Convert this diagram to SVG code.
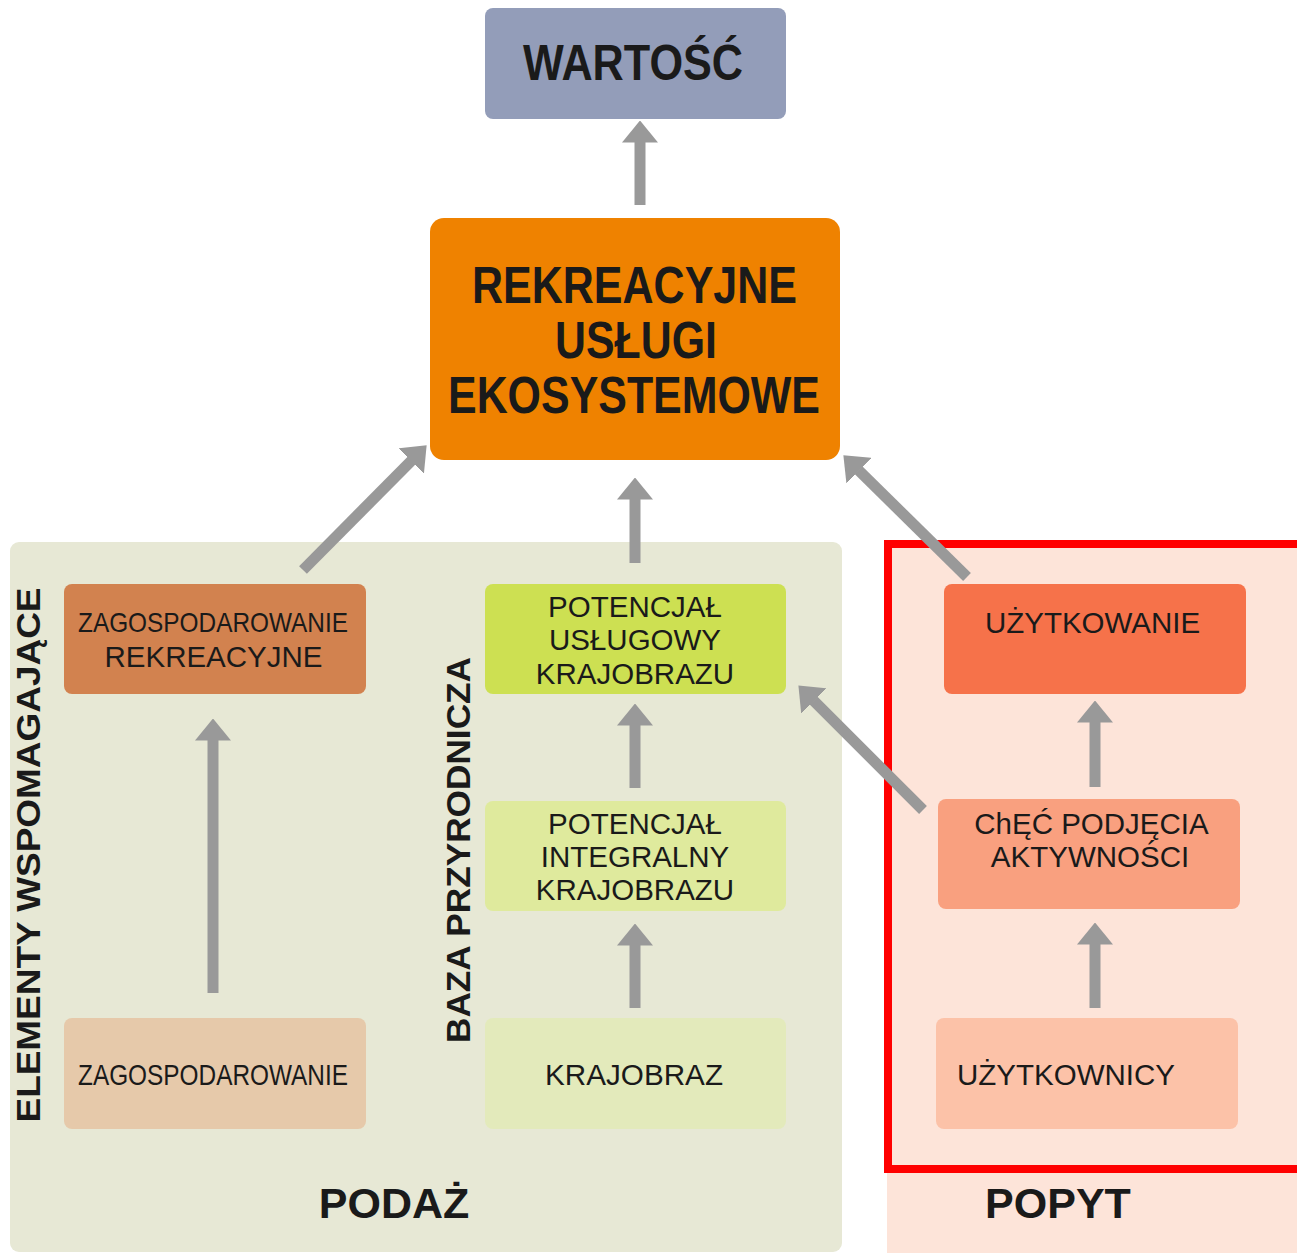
<svg xmlns="http://www.w3.org/2000/svg" width="1297" height="1253" viewBox="0 0 1297 1253">
<style>
.t{font-family:"Liberation Sans",Arial,sans-serif;fill:#1a1a1a;text-anchor:middle}
.b{font-weight:bold}
.n{font-size:29.5px}
.arr{stroke:#999;stroke-width:11;fill:none;marker-end:url(#ah)}
</style>
<defs>
<marker id="ah" markerUnits="userSpaceOnUse" viewBox="0 0 22 36" markerWidth="22" markerHeight="36" refX="0.5" refY="18" orient="auto">
<path d="M0,0 L22,18 L0,36 Z" fill="#999"/>
</marker>
</defs>
<rect width="1297" height="1253" fill="#fff"/>
<g id="podaz-panel">
<rect x="10" y="542" width="832" height="710" rx="9" fill="#e7e8d5"/>
<text class="t b" x="394" y="1218" font-size="43">PODAŻ</text>
<text class="t b" font-size="33" transform="translate(40,855) rotate(-90)" textLength="535" lengthAdjust="spacingAndGlyphs">ELEMENTY WSPOMAGAJĄCE</text>
<text class="t b" font-size="33" transform="translate(470,850) rotate(-90)" textLength="386" lengthAdjust="spacingAndGlyphs">BAZA PRZYRODNICZA</text>
</g>
<g id="popyt-panel">
<rect x="887" y="542" width="420" height="720" fill="#fde4d9"/>
<rect x="888" y="544" width="420" height="625" fill="none" stroke="#ff0000" stroke-width="8"/>
<text class="t b" x="1058" y="1218" font-size="43">POPYT</text>
</g>
<g id="connectors">
<line class="arr" x1="640" y1="205" x2="640" y2="142"/>
<line class="arr" x1="303" y1="570" x2="411.5" y2="460.6"/>
<line class="arr" x1="635" y1="563" x2="635" y2="499"/>
<line class="arr" x1="967" y1="577" x2="858.7" y2="470.4"/>
<line class="arr" x1="213" y1="993" x2="213" y2="740"/>
<line class="arr" x1="635" y1="788" x2="635" y2="725"/>
<line class="arr" x1="635" y1="1008" x2="635" y2="945"/>
<line class="arr" x1="1095" y1="787" x2="1095" y2="722"/>
<line class="arr" x1="1095" y1="1008" x2="1095" y2="944"/>
<line class="arr" x1="923" y1="810" x2="813.6" y2="700.6"/>
</g>
<g id="wartosc">
<rect x="485" y="8" width="301" height="111" rx="8" fill="#939db9"/>
<text class="t b" x="633" y="80" font-size="50" textLength="220" lengthAdjust="spacingAndGlyphs">WARTOŚĆ</text>
</g>
<g id="uslugi">
<rect x="430" y="218" width="410" height="242" rx="14" fill="#ef8200"/>
<text class="t b" x="634.5" y="303" font-size="52" textLength="325" lengthAdjust="spacingAndGlyphs">REKREACYJNE</text>
<text class="t b" x="636" y="358" font-size="52" textLength="162" lengthAdjust="spacingAndGlyphs">USŁUGI</text>
<text class="t b" x="634" y="413" font-size="52" textLength="372" lengthAdjust="spacingAndGlyphs">EKOSYSTEMOWE</text>
</g>
<g id="zagosp-rekr">
<rect x="64" y="584" width="302" height="110" rx="8" fill="#d2824f"/>
<text class="t" x="213" y="632" font-size="28" textLength="270" lengthAdjust="spacingAndGlyphs">ZAGOSPODAROWANIE</text>
<text class="t" x="213.5" y="667" font-size="29.5">REKREACYJNE</text>
</g>
<g id="zagosp">
<rect x="64" y="1018" width="302" height="111" rx="8" fill="#e6c9aa"/>
<text class="t" x="213" y="1085" font-size="30" textLength="270" lengthAdjust="spacingAndGlyphs">ZAGOSPODAROWANIE</text>
</g>
<g id="pot-uslugowy">
<rect x="485" y="584" width="301" height="110" rx="8" fill="#cde052"/>
<text class="t n" x="635" y="617">POTENCJAŁ</text>
<text class="t n" x="635" y="650">USŁUGOWY</text>
<text class="t n" x="635" y="684">KRAJOBRAZU</text>
</g>
<g id="pot-integralny">
<rect x="485" y="801" width="301" height="110" rx="8" fill="#dfea9d"/>
<text class="t n" x="635" y="834">POTENCJAŁ</text>
<text class="t n" x="635" y="867">INTEGRALNY</text>
<text class="t n" x="635" y="900">KRAJOBRAZU</text>
</g>
<g id="krajobraz">
<rect x="485" y="1018" width="301" height="111" rx="8" fill="#e3eabb"/>
<text class="t" x="634" y="1085" font-size="30" textLength="178" lengthAdjust="spacingAndGlyphs">KRAJOBRAZ</text>
</g>
<g id="uzytkowanie">
<rect x="944" y="584" width="302" height="110" rx="8" fill="#f6724a"/>
<text class="t n" x="1092.5" y="633">UŻYTKOWANIE</text>
</g>
<g id="chec">
<rect x="938" y="799" width="302" height="110" rx="8" fill="#f9a07f"/>
<text class="t n" x="1091.5" y="834">ChĘĆ PODJĘCIA</text>
<text class="t n" x="1090" y="867">AKTYWNOŚCI</text>
</g>
<g id="uzytkownicy">
<rect x="936" y="1018" width="302" height="111" rx="8" fill="#fcc2a8"/>
<text class="t n" x="957" y="1085" style="text-anchor:start">UŻYTKOWNICY</text>
</g>
</svg>
